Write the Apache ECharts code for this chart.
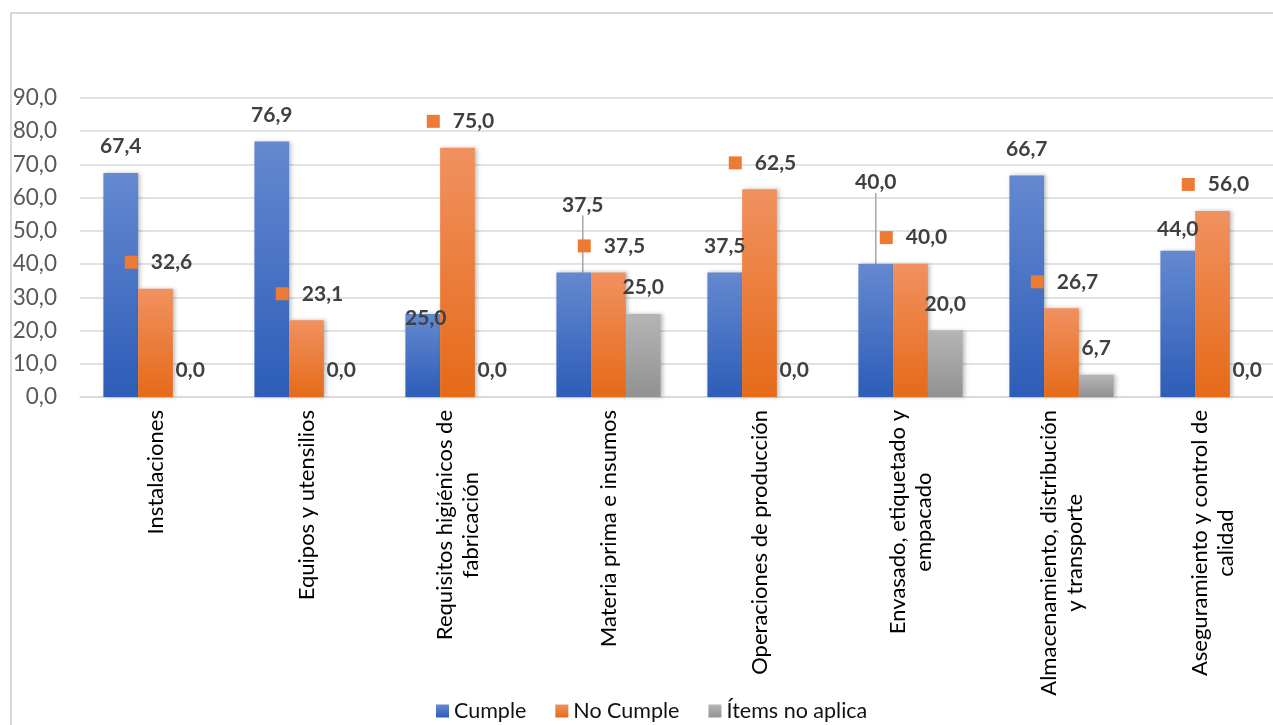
<!DOCTYPE html>
<html>
<head>
<meta charset="utf-8">
<title>Cumplimiento</title>
<script src="https://cdn.jsdelivr.net/npm/echarts@6/dist/echarts.min.js"></script>
<style>
	html, body { margin: 0; padding: 0; background: #fff; overflow: hidden; width: 1273px; height: 725px; }
	#frame { position: absolute; left: 10px; top: 12px; width: 1400px; height: 800px; border-left: 2px solid #d9d9d9; border-top: 2px solid #d9d9d9; }
	#main { position: absolute; left: 0; top: 0; width: 1300px; height: 725px; }
</style>
</head>
<body>
<div id="frame"></div>
<div id="main"></div>
<script>
// categorias (con saltos de linea como en el original)
var categorias = [
	'Instalaciones',
	'Equipos y utensilios',
	'Requisitos higiénicos de\nfabricación',
	'Materia prima e insumos',
	'Operaciones de producción',
	'Envasado, etiquetado y\nempacado',
	'Almacenamiento, distribución\ny transporte',
	'Aseguramiento y control de\ncalidad'
];
var cumple = [67.4, 76.9, 25.0, 37.5, 37.5, 40.0, 66.7, 44.0];
var noCumple = [32.6, 23.1, 75.0, 37.5, 62.5, 40.0, 26.7, 56.0];
var noAplica = [0.0, 0.0, 0.0, 25.0, 0.0, 20.0, 6.7, 0.0];
var ticksY = [0, 10, 20, 30, 40, 50, 60, 70, 80, 90];

var myChart = echarts.init(document.getElementById('main'));

function fmt(v) {
	return Number(v).toFixed(1).replace('.', ',');
}
function grad(top, bottom) {
	return new echarts.graphic.LinearGradient(0, 0, 0, 1, [
		{ offset: 0, color: top },
		{ offset: 1, color: bottom }
	]);
}

var fuente = 'Lato, "Open Sans", sans-serif';
var etiqueta = { show: true, position: 'top', distance: 16, fontFamily: fuente, fontSize: 21, fontWeight: 'bold', color: '#404040', formatter: function(p) { return fmt(p.value); } };

// datos de Cumple: algunos con linea guia
var datosCumple = cumple.map(function(v, i) {
	var d = { value: v };
	if (i == 3 || i == 5) {
		d.labelLine = { show: true, lineStyle: { color: '#a6a6a6', width: 1.5 } };
	}
	return d;
});
// desplazamiento manual de etiquetas (como en Excel)
var movCumple = { 2: [3, 31], 3: [9, -41], 5: [0, -55], 7: [0, 5] };

var option = {
	textStyle: { fontFamily: fuente },
	grid: { left: 80, right: 12, top: 98, bottom: 328, containLabel: false },
	legend: {
		left: 431,
		top: 695,
		itemWidth: 13,
		itemHeight: 13,
		itemGap: 29,
		icon: 'rect',
		textStyle: { fontFamily: fuente, fontSize: 21.5, color: '#111' },
		data: ['Cumple', 'No Cumple', 'Ítems no aplica']
	},
	xAxis: {
		type: 'category',
		data: categorias,
		axisLine: { lineStyle: { color: '#d9d9d9', width: 1.5 } },
		axisTick: { show: false },
		axisLabel: {
			interval: 0,
			rotate: 90,
			margin: 13,
			fontFamily: fuente,
			fontSize: 22,
			color: '#000',
			formatter: function(v) {
				return v.split('\n').map(function(s) { return '{c|' + s + '}'; }).join('\n');
			},
			rich: { c: { align: 'center', fontFamily: fuente, fontSize: 22, color: '#000', lineHeight: 26 } }
		}
	},
	yAxis: {
		type: 'value',
		min: ticksY[0],
		max: ticksY[ticksY.length - 1],
		interval: 10,
		axisLine: { show: false },
		axisTick: { show: false },
		splitLine: { lineStyle: { color: '#d9d9d9', width: 1.5 } },
		axisLabel: { margin: 23, fontFamily: fuente, fontSize: 22.5, color: '#595959', formatter: fmt }
	},
	series: [
		{
			name: 'Cumple',
			type: 'bar',
			barGap: '0%',
			barCategoryGap: '31%',
			data: datosCumple,
			itemStyle: { color: grad('#6489d0', '#2d5db8'), shadowBlur: 4, shadowColor: 'rgba(0,0,0,0.25)', shadowOffsetX: 2 },
			label: etiqueta,
			labelLine: { show: false },
			labelLayout: function(p) {
				var m = movCumple[p.dataIndex];
				if (m) return { dx: m[0], dy: m[1] };
				return {};
			}
		},
		{
			name: 'No Cumple',
			type: 'bar',
			data: noCumple,
			itemStyle: { color: grad('#f19160', '#e56a18'), shadowBlur: 4, shadowColor: 'rgba(0,0,0,0.25)', shadowOffsetX: 2 },
			label: {
				show: true,
				position: 'top',
				distance: 16,
				offset: [3, 0],
				formatter: function(p) { return '{sq|}{v|' + fmt(p.value) + '}'; },
				rich: {
					sq: { width: 13, height: 13, backgroundColor: '#ee7b34' },
					v: { fontFamily: fuente, fontSize: 21, fontWeight: 'bold', color: '#404040', padding: [0, 0, 0, 13] }
				}
			}
		},
		{
			name: 'Ítems no aplica',
			type: 'bar',
			data: noAplica,
			itemStyle: { color: grad('#b5b5b5', '#929292'), shadowBlur: 4, shadowColor: 'rgba(0,0,0,0.25)', shadowOffsetX: 2 },
			label: etiqueta
		}
	]
};
myChart.setOption(option);
window.addEventListener('resize', function() {
	myChart.resize();
});
</script>
</body>
</html>
